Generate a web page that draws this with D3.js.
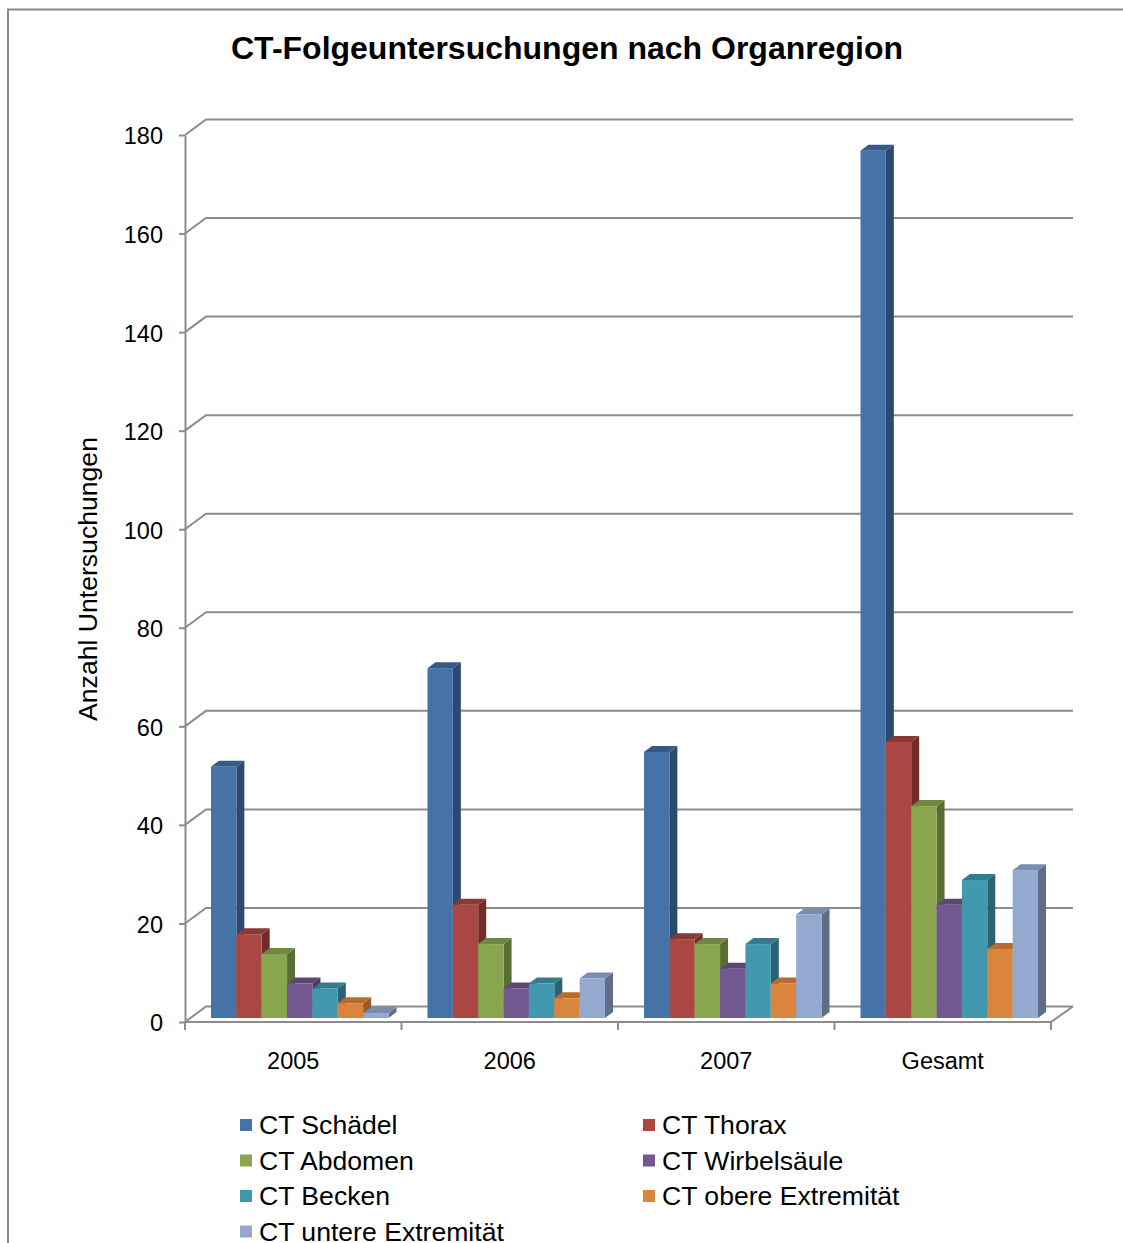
<!DOCTYPE html>
<html>
<head>
<meta charset="utf-8">
<script src="https://cdn.jsdelivr.net/npm/d3@7"></script>
<style>
  html, body { margin: 0; padding: 0; background: #fff; }
  svg { display: block; font-family: "Liberation Sans", Arial, sans-serif; }
</style>
</head>
<body>
<svg id="chart" width="1123" height="1243"></svg>
<script>
// Follow-up CT examinations per body region and year
const categories = ["2005", "2006", "2007", "Gesamt"];
const seriesNames = [
  "CT Schädel", "CT Thorax", "CT Abdomen", "CT Wirbelsäule",
  "CT Becken", "CT obere Extremität", "CT untere Extremität"
];
const schaedel   = [51, 71, 54, 176];
const thorax     = [17, 23, 16, 56];
const abdomen    = [13, 15, 15, 43];
const wirbel     = [7, 6, 10, 23];
const becken     = [6, 7, 15, 28];
const obereExt   = [3, 4, 7, 14];
const untereExt  = [1, 8, 21, 30];
const seriesValues = [schaedel, thorax, abdomen, wirbel, becken, obereExt, untereExt];
const yTicks = [0, 20, 40, 60, 80, 100, 120, 140, 160, 180];

// front / side / top face shades per series
const frontColors = ["#4572A7", "#AA4643", "#89A54E", "#71588F", "#4198AF", "#DB843D", "#93A9CF"];
const sideColors  = ["#2C4A70", "#722D2B", "#5A6D32", "#4A395E", "#2A6373", "#99592A", "#5F6E88"];
const topColors   = ["#355A88", "#8A3835", "#6F8740", "#5B4775", "#337C8F", "#B86B31", "#7A8DB0"];

const svg = d3.select("#chart");

// outer frame (top and left edges)
svg.append("path")
  .attr("d", "M8,1243 V9.5 H1123")
  .attr("fill", "none").attr("stroke", "#8a8a8a").attr("stroke-width", 2);

// title
svg.append("text")
  .attr("x", 567).attr("y", 59)
  .attr("text-anchor", "middle")
  .attr("font-size", 32).attr("font-weight", "bold")
  .text("CT-Folgeuntersuchungen nach Organregion");

// plot geometry
const x0 = 185, x1 = 1051;
const y = d3.scaleLinear().domain([0, 180]).range([1022, 135]);
const x = d3.scaleBand().domain(categories).range([x0, x1]).padding(0);
const wall = { dx: 21, dy: -15.5 };     // depth of the floor / side wall
const face = { dx: 6.5, dy: -4 };       // front plane of the columns
const depth = { dx: 8, dy: -6 };        // column depth
const groupW = x.bandwidth() * 0.82;
const xs = d3.scaleBand().domain(seriesNames).range([0, groupW]).padding(0);

const gridColor = "#8c8c8c";
const grid = svg.append("g").attr("fill", "none").attr("stroke", gridColor).attr("stroke-width", 2);

// back-wall gridlines with their diagonal on the side wall
yTicks.forEach(t => {
  const yy = y(t);
  grid.append("path")
    .attr("d", `M${x0},${yy} L${x0 + wall.dx},${yy + wall.dy} H${x1 + wall.dx + 1}`);
});
// floor front edge and right diagonal
grid.append("path")
  .attr("d", `M${x0},${y(0)} H${x1} L${x1 + wall.dx + 1},${y(0) + wall.dy}`);

// y axis
const yAxis = svg.append("g")
  .attr("transform", `translate(${x0},0)`)
  .call(d3.axisLeft(y).tickValues(yTicks).tickSizeInner(6).tickSizeOuter(0).tickPadding(16));
yAxis.select(".domain").attr("stroke", gridColor).attr("stroke-width", 2);
yAxis.selectAll(".tick line").attr("stroke", gridColor).attr("stroke-width", 2);
yAxis.selectAll(".tick text")
  .attr("font-size", 23.5).attr("fill", "#000").attr("dy", "0.38em")
  .attr("font-family", "Liberation Sans, Arial, sans-serif");

// x axis: labels centred in the band, ticks on band edges
const xAxis = svg.append("g")
  .attr("transform", `translate(0,${y(0)})`)
  .call(d3.axisBottom(x).tickSize(0).tickPadding(30));
xAxis.select(".domain").remove();
xAxis.selectAll(".tick text")
  .attr("font-size", 23.5).attr("fill", "#000")
  .attr("font-family", "Liberation Sans, Arial, sans-serif");
const edges = categories.map(c => x(c)).concat([x1]);
svg.append("g").selectAll("line").data(edges).join("line")
  .attr("x1", d => d).attr("x2", d => d)
  .attr("y1", y(0)).attr("y2", y(0) + 8)
  .attr("stroke", gridColor).attr("stroke-width", 2);

// y axis title
svg.append("text")
  .attr("transform", "translate(97,579) rotate(-90)")
  .attr("text-anchor", "middle")
  .attr("font-size", 26.6)
  .text("Anzahl Untersuchungen");

// 3D columns, drawn left to right so nearer faces paint last
const bars = svg.append("g");
categories.forEach((cat, ci) => {
  const gx = x(cat) + (x.bandwidth() - groupW) / 2 + face.dx;
  seriesNames.forEach((s, si) => {
    const v = seriesValues[si][ci];
    const left = gx + xs(s);
    const right = left + xs.bandwidth();
    const bottom = y(0) + face.dy;
    const top = y(v) + face.dy;
    const g = bars.append("g");
    // side face
    g.append("path")
      .attr("d", `M${right},${bottom} L${right + depth.dx},${bottom + depth.dy} L${right + depth.dx},${top + depth.dy} L${right},${top} Z`)
      .attr("fill", sideColors[si]);
    // top face
    g.append("path")
      .attr("d", `M${left},${top} L${left + depth.dx},${top + depth.dy} L${right + depth.dx},${top + depth.dy} L${right},${top} Z`)
      .attr("fill", topColors[si]);
    // front face
    g.append("rect")
      .attr("x", left).attr("y", top)
      .attr("width", xs.bandwidth()).attr("height", bottom - top)
      .attr("fill", frontColors[si]);
  });
});

// legend, two columns
const legend = svg.append("g");
const legendCols = [240, 643];
const legendRowY = 1125, legendRowGap = 35.5;
seriesNames.forEach((s, i) => {
  const cx = legendCols[i % 2];
  const cy = legendRowY + Math.floor(i / 2) * legendRowGap;
  legend.append("rect")
    .attr("x", cx).attr("y", cy - 6)
    .attr("width", 12).attr("height", 12)
    .attr("fill", frontColors[i]);
  legend.append("text")
    .attr("x", cx + 19).attr("y", cy + 9)
    .attr("font-size", 26.6)
    .text(s);
});
</script>
</body>
</html>
